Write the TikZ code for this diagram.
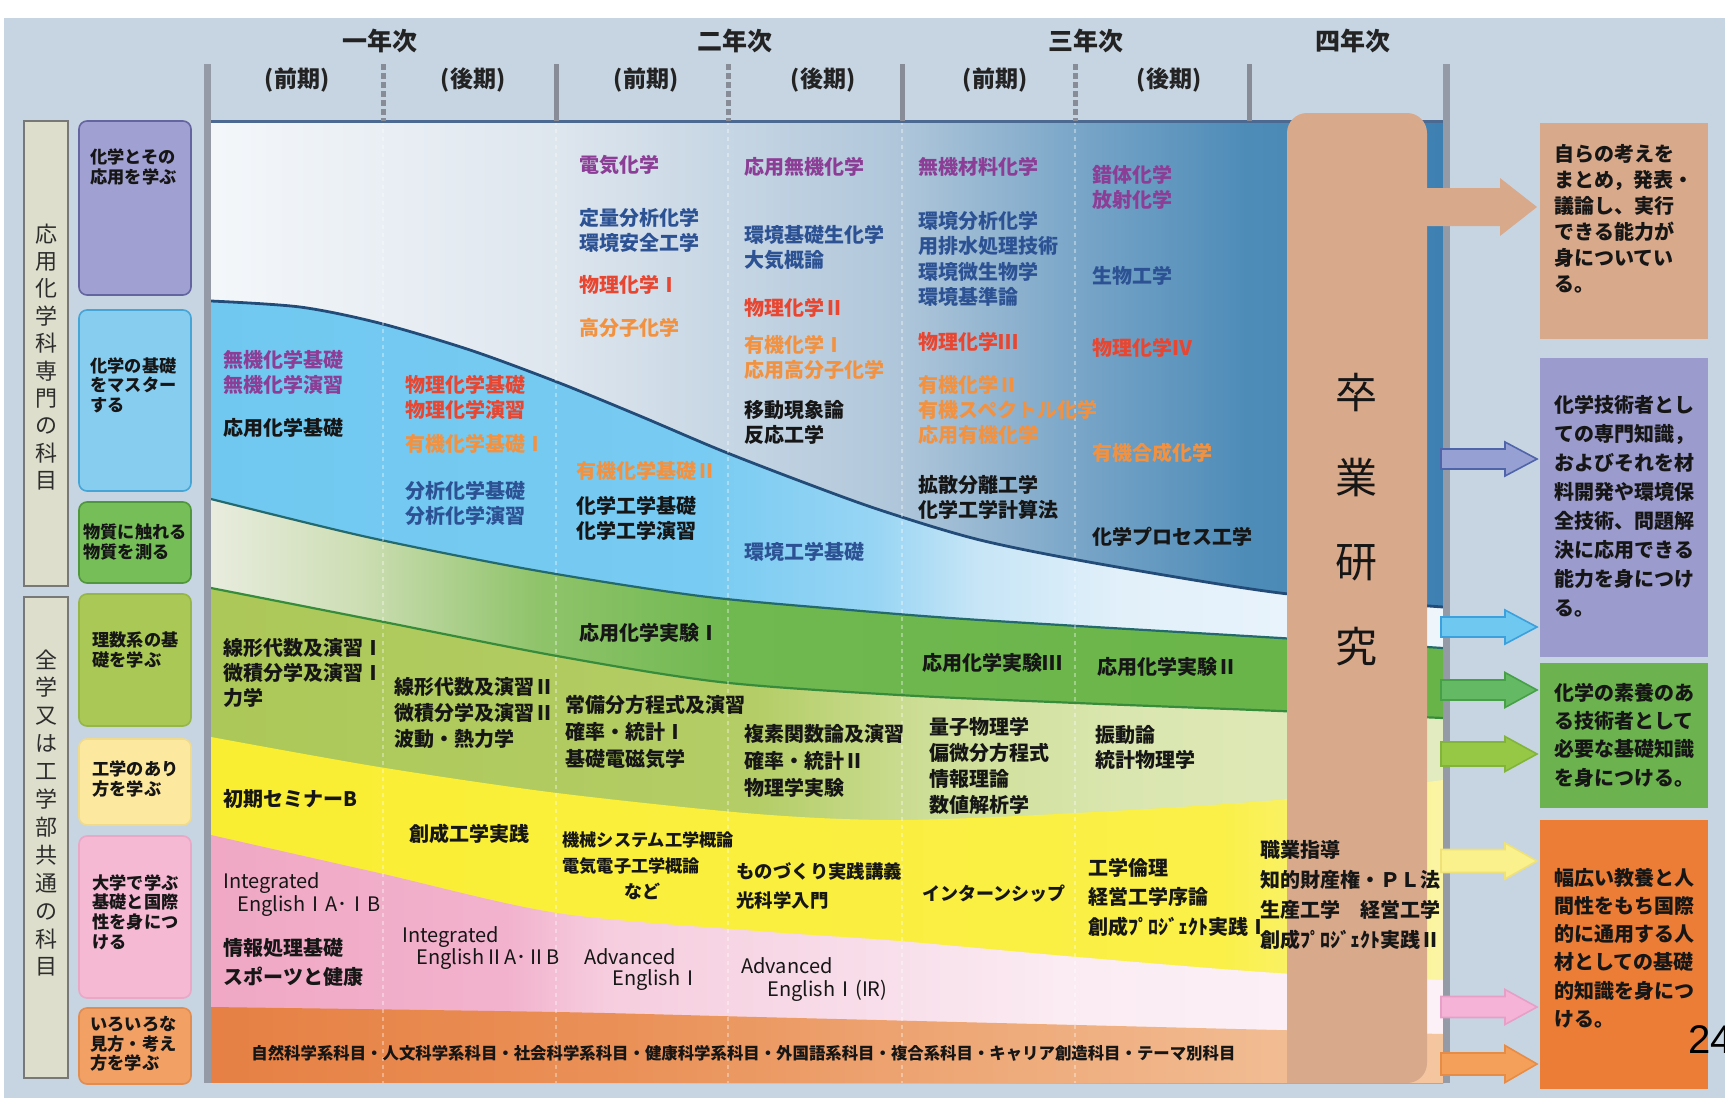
\documentclass[tikz,border=0pt]{standalone}
\usepackage{fontspec}
\setmainfont{Noto Sans CJK JP}
\newfontfamily\arialfont{Liberation Sans}
\definecolor{bg}{RGB}{199,213,227}
\definecolor{tA}{RGB}{244,247,250}
\definecolor{tB}{RGB}{222,230,238}
\definecolor{tC}{RGB}{175,198,218}
\definecolor{tD}{RGB}{115,162,198}
\definecolor{tE}{RGB}{78,140,184}
\definecolor{tF}{RGB}{62,128,178}
\definecolor{lA}{RGB}{112,200,240}
\definecolor{lB}{RGB}{120,203,242}
\definecolor{lC}{RGB}{152,213,244}
\definecolor{lD}{RGB}{198,229,246}
\definecolor{lE}{RGB}{226,240,250}
\definecolor{lF}{RGB}{238,246,252}
\definecolor{gA}{RGB}{232,236,222}
\definecolor{gB}{RGB}{205,222,180}
\definecolor{gC}{RGB}{145,196,108}
\definecolor{gD}{RGB}{112,184,80}
\definecolor{gE}{RGB}{104,180,72}
\definecolor{rA}{RGB}{172,200,88}
\definecolor{rB}{RGB}{180,205,102}
\definecolor{rC}{RGB}{205,222,150}
\definecolor{rD}{RGB}{218,230,175}
\definecolor{rE}{RGB}{226,235,192}
\definecolor{yA}{RGB}{250,238,50}
\definecolor{yB}{RGB}{250,240,72}
\definecolor{yC}{RGB}{251,244,165}
\definecolor{pA}{RGB}{240,168,196}
\definecolor{pB}{RGB}{242,178,205}
\definecolor{pC}{RGB}{246,205,222}
\definecolor{pD}{RGB}{248,222,234}
\definecolor{pE}{RGB}{251,236,243}
\definecolor{pF}{RGB}{252,241,246}
\definecolor{oA}{RGB}{230,128,68}
\definecolor{oB}{RGB}{234,145,88}
\definecolor{oC}{RGB}{238,170,122}
\definecolor{oD}{RGB}{244,198,160}
\pgfdeclarehorizontalshading{topsh}{100bp}{color(0bp)=(tA); color(25bp)=(tA); color(39bp)=(tB); color(53bp)=(tC); color(61bp)=(tD); color(67bp)=(tE); color(75bp)=(tF); color(100bp)=(tF)}
\pgfdeclarehorizontalshading{lbsh}{100bp}{color(0bp)=(lA); color(25bp)=(lA); color(45bp)=(lB); color(52bp)=(lC); color(56bp)=(lD); color(62bp)=(lE); color(75bp)=(lF); color(100bp)=(lF)}
\pgfdeclarehorizontalshading{grsh}{100bp}{color(0bp)=(gA); color(25bp)=(gA); color(31bp)=(gB); color(38bp)=(gC); color(46bp)=(gD); color(75bp)=(gE); color(100bp)=(gE)}
\pgfdeclarehorizontalshading{rssh}{100bp}{color(0bp)=(rA); color(25bp)=(rA); color(47bp)=(rB); color(54bp)=(rC); color(62bp)=(rD); color(75bp)=(rE); color(100bp)=(rE)}
\pgfdeclarehorizontalshading{ylsh}{100bp}{color(0bp)=(yA); color(25bp)=(yA); color(66bp)=(yB); color(75bp)=(yC); color(100bp)=(yC)}
\pgfdeclarehorizontalshading{pksh}{100bp}{color(0bp)=(pA); color(25bp)=(pA); color(37bp)=(pB); color(41bp)=(pC); color(52bp)=(pD); color(60bp)=(pE); color(75bp)=(pF); color(100bp)=(pF)}
\pgfdeclarehorizontalshading{orsh}{100bp}{color(0bp)=(oA); color(25bp)=(oA); color(42bp)=(oB); color(57bp)=(oC); color(75bp)=(oD); color(100bp)=(oD)}
\definecolor{lineA}{RGB}{35,75,120}
\definecolor{lineB}{RGB}{35,105,110}
\definecolor{lineC}{RGB}{55,140,60}
\definecolor{divc}{RGB}{135,140,150}
\definecolor{barc}{RGB}{148,155,166}
\definecolor{topline}{RGB}{75,105,145}
\definecolor{sand}{RGB}{216,169,139}
\definecolor{hdrtext}{RGB}{35,35,35}
\definecolor{vtext}{RGB}{45,45,45}
\definecolor{cpur}{RGB}{140,62,150}
\definecolor{cblu}{RGB}{45,82,148}
\definecolor{cred}{RGB}{232,70,48}
\definecolor{corg}{RGB}{242,146,64}
\definecolor{cblk}{RGB}{22,22,22}
\definecolor{outerF}{RGB}{222,222,204}
\definecolor{outerD}{RGB}{120,120,120}
\definecolor{bPur}{RGB}{160,160,210}
\definecolor{bPurD}{RGB}{100,100,160}
\definecolor{bBlu}{RGB}{135,205,240}
\definecolor{bBluD}{RGB}{70,165,215}
\definecolor{bGrn}{RGB}{118,190,88}
\definecolor{bGrnD}{RGB}{80,150,60}
\definecolor{bYg}{RGB}{170,200,85}
\definecolor{bYgD}{RGB}{150,182,72}
\definecolor{bYel}{RGB}{253,232,160}
\definecolor{bYelD}{RGB}{240,218,140}
\definecolor{bPnk}{RGB}{245,185,212}
\definecolor{bPnkD}{RGB}{232,168,198}
\definecolor{bOrg}{RGB}{242,160,100}
\definecolor{bOrgD}{RGB}{225,140,80}
\definecolor{rPur}{RGB}{155,155,205}
\definecolor{rGrn}{RGB}{108,178,78}
\definecolor{rOrg}{RGB}{235,125,55}
\definecolor{aPur}{RGB}{150,160,210}
\definecolor{aPurD}{RGB}{80,100,170}
\definecolor{aBlu}{RGB}{110,200,240}
\definecolor{aBluD}{RGB}{60,160,220}
\definecolor{aGrn}{RGB}{100,185,100}
\definecolor{aGrnD}{RGB}{70,160,70}
\definecolor{aYg}{RGB}{150,200,70}
\definecolor{aYgD}{RGB}{130,180,60}
\definecolor{aYel}{RGB}{250,240,140}
\definecolor{aYelD}{RGB}{238,225,120}
\definecolor{aPnk}{RGB}{245,180,215}
\definecolor{aPnkD}{RGB}{230,160,200}
\definecolor{aOrg}{RGB}{245,160,90}
\definecolor{aOrgD}{RGB}{230,140,70}
\newcommand\outarrow[6]{%
  \filldraw[fill=#3, draw=#4, line width=0.8pt, line join=miter]
    (#2,#1-#5) -- (1505,#1-#5) -- (1505,#1-#6) -- (1537,#1) -- (1505,#1+#6) -- (1505,#1+#5) -- (#2,#1+#5) -- cycle;}
\tikzset{
  subj/.style={anchor=west, inner sep=0pt, align=left, font=\bfseries\fontsize{10}{12.5}\selectfont},
  hdr/.style={inner sep=0pt, font=\bfseries\fontsize{12.5}{14}\selectfont, text=hdrtext},
  sem/.style={inner sep=0pt, font=\bfseries\fontsize{11.5}{13}\selectfont, text=hdrtext},
  lab/.style={anchor=west, inner sep=0pt, align=left, text=cblk, font=\bfseries\fontsize{8.6}{9.8}\selectfont},
  vlab/.style={inner sep=0pt, align=center, text=vtext},
  outerbox/.style={fill=outerF, draw=outerD, line width=0.6pt},
  labbox/.style={rounded corners=4pt, line width=0.8pt},
  outtxt/.style={anchor=west, inner sep=0pt, align=left, text=cblk},
  bigkanji/.style={inner sep=0pt, text=cblk, font=\fontsize{21}{21}\selectfont}
}
\begin{document}
\begin{tikzpicture}[x=0.5pt,y=-0.5pt]
\useasboundingbox (0,0) rectangle (1725,1098);
\fill[white] (0,0) rectangle (1725,1098);
\fill[bg] (4,18) rectangle (1725,1098);

% ---------- bands ----------
\path[shading=topsh] (211,121) rectangle (1443,1083);
\path[shading=lbsh] plot[smooth] coordinates {(211,301) (300,307) (379,323) (470,350) (557,382) (640,416) (720,450) (800,481) (880,510) (980,540) (1100,564) (1280,593) (1443,607)} -- (1443,1083) -- (211,1083) -- cycle;
\path[shading=grsh] plot[smooth] coordinates {(211,499) (367,537) (533,570) (700,596) (850,610) (980,620) (1280,638) (1443,648)} -- (1443,1083) -- (211,1083) -- cycle;
\path[shading=rssh] plot[smooth] coordinates {(211,588) (379,621) (557,656) (720,682) (899,695) (1077,703) (1280,711) (1443,718)} -- (1443,1083) -- (211,1083) -- cycle;
\path[shading=ylsh] plot[smooth] coordinates {(211,737) (379,767) (557,793) (757,814) (899,820) (1077,813) (1277,800) (1443,780)} -- (1443,1083) -- (211,1083) -- cycle;
\path[shading=pksh] plot[smooth] coordinates {(211,835) (379,873) (557,913) (757,931) (899,941) (1077,957) (1277,973) (1443,980)} -- (1443,1083) -- (211,1083) -- cycle;
\path[shading=orsh] plot[smooth] coordinates {(211,1007) (557,1012) (757,1017) (1077,1025) (1277,1030) (1443,1034)} -- (1443,1083) -- (211,1083) -- cycle;

\draw[lineA, line width=1.4pt] plot[smooth] coordinates {(211,301) (300,307) (379,323) (470,350) (557,382) (640,416) (720,450) (800,481) (880,510) (980,540) (1100,564) (1280,593) (1443,607)};
\draw[lineB, line width=1.1pt] plot[smooth] coordinates {(211,499) (367,537) (533,570) (700,596) (850,610) (980,620) (1280,638) (1443,648)};
\draw[lineC, line width=1.1pt] plot[smooth] coordinates {(211,588) (379,621) (557,656) (720,682) (899,695) (1077,703) (1280,711) (1443,718)};

\foreach \xx in {383,556,728,902,1075}
  \draw[white, opacity=0.35, line width=1pt, dash pattern=on 2pt off 2pt] (\xx,121) -- (\xx,1083);

% ---------- frame and header dividers ----------
\draw[topline, line width=1.5pt] (211,121) -- (1443,121);
\fill[barc] (204,64) rectangle (211,1083);
\fill[barc] (1443,64) rectangle (1450,1083);
\foreach \xx in {556,902,1249}
  \fill[divc] (\xx-2.5,64) rectangle (\xx+2.5,121);
\foreach \xx in {383,728,1075}
  \draw[divc, line width=2.5pt, dash pattern=on 3pt off 1.5pt] (\xx,64) -- (\xx,121);

\node[hdr] (y1) at (380,41) {一年次};
\node[hdr] (y2) at (735,41) {二年次};
\node[hdr] (y3) at (1086,41) {三年次};
\node[hdr] (y4) at (1353,41) {四年次};
\node[sem] (s1) at (297,80) {(前期)};
\node[sem] (s2) at (473,80) {(後期)};
\node[sem] (s3) at (646,80) {(前期)};
\node[sem] (s4) at (823,80) {(後期)};
\node[sem] (s5) at (995,80) {(前期)};
\node[sem] (s6) at (1169,80) {(後期)};

% ---------- graduation research ----------
\fill[sand] (1287,1083) [rounded corners=10pt] -- (1287,113) -- (1427,113) -- (1427,1083) [sharp corners] -- cycle;
\node[bigkanji] (k1) at (1356,393) {卒};
\node[bigkanji] (k2) at (1356,478) {業};
\node[bigkanji] (k3) at (1356,563) {研};
\node[bigkanji] (k4) at (1356,647) {究};

% ---------- left labels ----------
\draw[outerbox] (24,121) rectangle (68,586);
\node[vlab, font=\fontsize{11}{13.7}\selectfont] (v1) at (46,357) {応\\用\\化\\学\\科\\専\\門\\の\\科\\目};
\draw[outerbox] (24,597) rectangle (68,1078);
\node[vlab, font=\fontsize{11}{13.95}\selectfont] (v2) at (46,813) {全\\学\\又\\は\\工\\学\\部\\共\\通\\の\\科\\目};

\draw[labbox, fill=bPur, draw=bPurD] (79,121) rectangle (191,295);
\draw[labbox, fill=bBlu, draw=bBluD] (79,310) rectangle (191,491);
\draw[labbox, fill=bGrn, draw=bGrnD] (79,502) rectangle (191,583);
\draw[labbox, fill=bYg, draw=bYgD] (79,594) rectangle (191,726);
\draw[labbox, fill=bYel, draw=bYelD] (79,739) rectangle (191,825);
\draw[labbox, fill=bPnk, draw=bPnkD] (79,836) rectangle (191,998);
\draw[labbox, fill=bOrg, draw=bOrgD] (79,1008) rectangle (191,1084);
\node[lab] (l1) at (90,167) {化学とその\\応用を学ぶ};
\node[lab] (l2) at (90,385) {化学の基礎\\をマスター\\する};
\node[lab] (l3) at (83,542) {物質に触れる\\物質を測る};
\node[lab] (l4) at (92,650) {理数系の基\\礎を学ぶ};
\node[lab] (l5) at (92,779) {工学のあり\\方を学ぶ};
\node[lab] (l6) at (92,912) {大学で学ぶ\\基礎と国際\\性を身につ\\ける};
\node[lab] (l7) at (90,1044) {いろいろな\\見方・考え\\方を学ぶ};

% ---------- subjects: specialised ----------
\node[subj, text=cpur] (g1) at (579,165) {電気化学};
\node[subj, text=cblu] (g2) at (579,230) {定量分析化学\\環境安全工学};
\node[subj, text=cred] (g3) at (579,285) {物理化学Ⅰ};
\node[subj, text=corg] (g4) at (579,328) {高分子化学};
\node[subj, text=cpur] (g5) at (744,167) {応用無機化学};
\node[subj, text=cblu] (g6) at (744,248) {環境基礎生化学\\大気概論};
\node[subj, text=cred] (g7) at (744,308) {物理化学Ⅱ};
\node[subj, text=corg] (g8) at (744,357) {有機化学Ⅰ\\応用高分子化学};
\node[subj, text=cblk] (g9) at (744,422) {移動現象論\\反応工学};
\node[subj, text=cblu] (g10) at (744,552) {環境工学基礎};
\node[subj, text=cpur] (g11) at (918,167) {無機材料化学};
\node[subj, text=cblu, font=\bfseries\fontsize{10}{12.7}\selectfont] (g12) at (918,259) {環境分析化学\\用排水処理技術\\環境微生物学\\環境基準論};
\node[subj, text=cred] (g13) at (918,342) {物理化学Ⅲ};
\node[subj, text=corg] (g14) at (918,410) {有機化学Ⅱ\\有機スペクトル化学\\応用有機化学};
\node[subj, text=cblk] (g15) at (918,497) {拡散分離工学\\化学工学計算法};
\node[subj, text=cpur] (g16) at (1092,187) {錯体化学\\放射化学};
\node[subj, text=cblu] (g17) at (1092,276) {生物工学};
\node[subj, text=cred] (g18) at (1092,348) {物理化学Ⅳ};
\node[subj, text=corg] (g19) at (1092,453) {有機合成化学};
\node[subj, text=cblk] (g20) at (1092,537) {化学プロセス工学};
\node[subj, text=cpur] (g21) at (223,372) {無機化学基礎\\無機化学演習};
\node[subj, text=cblk] (g22) at (223,428) {応用化学基礎};
\node[subj, text=cred] (g23) at (405,397) {物理化学基礎\\物理化学演習};
\node[subj, text=corg] (g24) at (405,444) {有機化学基礎Ⅰ};
\node[subj, text=cblu] (g25) at (405,503) {分析化学基礎\\分析化学演習};
\node[subj, text=corg] (g26) at (576,471) {有機化学基礎Ⅱ};
\node[subj, text=cblk] (g27) at (576,518) {化学工学基礎\\化学工学演習};

% ---------- subjects: common ----------
\node[subj, text=cblk] (h1) at (579,633) {応用化学実験Ⅰ};
\node[subj, text=cblk, font=\bfseries\fontsize{10}{12.3}\selectfont] (h2) at (223,673) {線形代数及演習Ⅰ\\微積分学及演習Ⅰ\\力学};
\node[subj, text=cblk, font=\bfseries\fontsize{10}{13}\selectfont] (h3) at (394,713) {線形代数及演習Ⅱ\\微積分学及演習Ⅱ\\波動・熱力学};
\node[subj, text=cblk, font=\bfseries\fontsize{10}{13.3}\selectfont] (h4) at (565,732) {常備分方程式及演習\\確率・統計Ⅰ\\基礎電磁気学};
\node[subj, text=cblk, font=\bfseries\fontsize{10}{13.3}\selectfont] (h5) at (744,761) {複素関数論及演習\\確率・統計Ⅱ\\物理学実験};
\node[subj, text=cblk] (h6) at (922,663) {応用化学実験Ⅲ};
\node[subj, text=cblk, font=\bfseries\fontsize{10}{13}\selectfont] (h7) at (929,766) {量子物理学\\偏微分方程式\\情報理論\\数値解析学};
\node[subj, text=cblk] (h8) at (1097,667) {応用化学実験Ⅱ};
\node[subj, text=cblk] (h9) at (1095,747) {振動論\\統計物理学};
\node[subj, text=cblk] (h10) at (223,799) {初期セミナーB};
\node[subj, text=cblk] (h11) at (409,834) {創成工学実践};
\node[subj, text=cblk, font=\bfseries\fontsize{8.6}{13}\selectfont] (h12) at (562,853) {機械システム工学概論\\電気電子工学概論};
\node[subj, text=cblk, font=\bfseries\fontsize{9}{10}\selectfont] (h13) at (624,891) {など};
\node[subj, text=cblk, font=\bfseries\fontsize{9.2}{14.5}\selectfont] (h14) at (736,886) {ものづくり実践講義\\光科学入門};
\node[subj, text=cblk, font=\bfseries\fontsize{9}{10}\selectfont] (h15) at (922,894) {インターンシップ};
\node[subj, text=cblk, font=\bfseries\fontsize{10}{14.75}\selectfont] (h16) at (1088,897) {工学倫理\\経営工学序論\\創成ﾌﾟﾛｼﾞｪｸﾄ実践Ⅰ};
\node[subj, text=cblk, font=\bfseries\fontsize{10}{15}\selectfont] (h17) at (1260,895) {職業指導\\知的財産権・ＰＬ法\\生産工学　経営工学\\創成ﾌﾟﾛｼﾞｪｸﾄ実践Ⅱ};
\node[subj, text=cblk, font=\fontsize{10}{11.5}\selectfont] (h18) at (223,895) {Integrated\\\hspace*{7pt}EnglishⅠA･ⅠB};
\node[subj, text=cblk, font=\bfseries\fontsize{10}{14.5}\selectfont] (h19) at (223,962) {情報処理基礎\\スポーツと健康};
\node[subj, text=cblk, font=\fontsize{10}{11}\selectfont] (h20) at (402,948) {Integrated\\\hspace*{7pt}EnglishⅡA･ⅡB};
\node[subj, text=cblk, font=\fontsize{10}{10.5}\selectfont] (h21) at (584,970) {Advanced\\\hspace*{14pt}EnglishⅠ};
\node[subj, text=cblk, font=\fontsize{10}{11.5}\selectfont] (h22) at (741,980) {Advanced\\\hspace*{13pt}EnglishⅠ(IR)};
\node[subj, text=cblk, font=\bfseries\fontsize{8.2}{9}\selectfont] (h23) at (251,1053) {自然科学系科目・人文科学系科目・社会科学系科目・健康科学系科目・外国語系科目・複合系科目・キャリア創造科目・テーマ別科目};

% ---------- outcome boxes ----------
\fill[sand] (1540,123) rectangle (1708,339);
\fill[rPur] (1540,358) rectangle (1708,657);
\fill[rGrn] (1540,663) rectangle (1708,808);
\fill[rOrg] (1540,820) rectangle (1708,1089);
\node[outtxt, font=\bfseries\fontsize{10}{13}\selectfont] (o1) at (1554,219) {自らの考えを\\まとめ，発表・\\議論し、実行\\できる能力が\\身についてい\\る。};
\node[outtxt, font=\bfseries\fontsize{10}{14.5}\selectfont] (o2) at (1554,506) {化学技術者とし\\ての専門知識，\\およびそれを材\\料開発や環境保\\全技術、問題解\\決に応用できる\\能力を身につけ\\る。};
\node[outtxt, font=\bfseries\fontsize{10}{14.2}\selectfont] (o3) at (1554,735) {化学の素養のあ\\る技術者として\\必要な基礎知識\\を身につける。};
\node[outtxt, font=\bfseries\fontsize{10}{14.1}\selectfont] (o4) at (1554,948) {幅広い教養と人\\間性をもち国際\\的に通用する人\\材としての基礎\\的知識を身につ\\ける。};

% ---------- arrows ----------
\fill[sand] (1427,188) -- (1500,188) -- (1500,178) -- (1537,207) -- (1500,236) -- (1500,226) -- (1427,226) -- cycle;
\outarrow{459}{1441}{aPur}{aPurD}{10}{17}
\outarrow{627}{1441}{aBlu}{aBluD}{10}{17}
\outarrow{690}{1441}{aGrn}{aGrnD}{10}{17.5}
\outarrow{754}{1441}{aYg}{aYgD}{12}{17.5}
\outarrow{861}{1441}{aYel}{aYelD}{11.5}{18}
\outarrow{1007}{1441}{aPnk}{aPnkD}{10.5}{17.5}
\outarrow{1064}{1441}{aOrg}{aOrgD}{11}{18.5}

\node[anchor=west, inner sep=0pt, text=black, font=\arialfont\fontsize{20}{20}\selectfont] (pg) at (1688,1040) {24};
\end{tikzpicture}
\end{document}
